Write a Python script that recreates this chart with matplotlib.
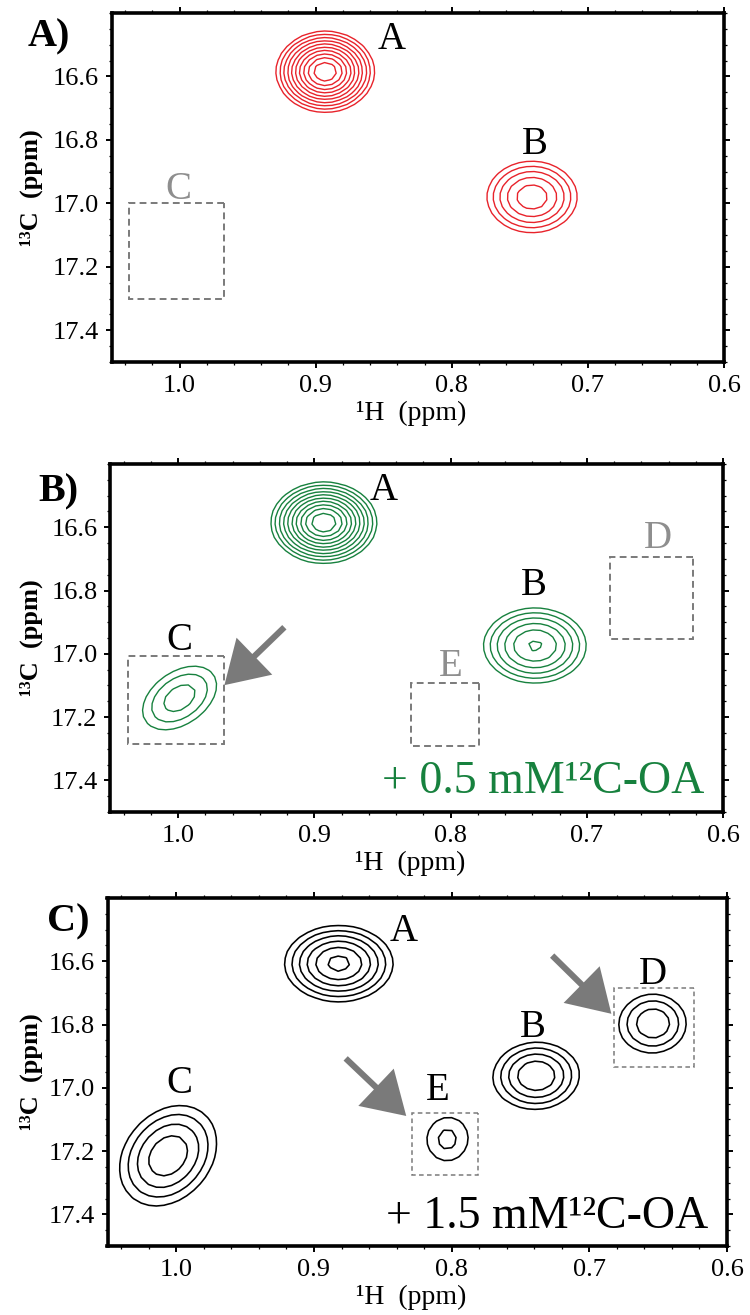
import numpy as np
import matplotlib
matplotlib.use("Agg")
import matplotlib.pyplot as plt
from matplotlib.patches import Rectangle
from matplotlib.ticker import MultipleLocator, FormatStrFormatter

plt.rcParams['font.family'] = ['Liberation Serif', 'DejaVu Serif']

# ---------------------------------------------------------------------------
# Axis ranges and ticks (ppm)
h_lim = (1.05, 0.60)
c_lim = (17.50, 16.40)
h_ticks = [1.0, 0.9, 0.8, 0.7, 0.6]
c_ticks = [16.6, 16.8, 17.0, 17.2, 17.4]

# ---------------------------------------------------------------------------
# Cross-peak tables: 1H shift, 13C shift, intensity, line widths, tilt
# A) apo protein
a_h = [0.893, 0.741]
a_c = [16.585, 16.980]
a_amp = [9.2, 2.85]
a_wh = [0.0178, 0.0281]
a_wc = [0.0630, 0.0955]
a_rho = [0.0, 0.0]

# B) + 0.5 mM 12C-OA
b_h = [0.893, 0.738, 0.999]
b_c = [16.585, 16.974, 17.140]
b_amp = [9.2, 3.15, 1.75]
b_wh = [0.0191, 0.0301, 0.0336]
b_wc = [0.0630, 0.0948, 0.1244]
b_rho = [0.0, 0.0, 0.4]

# C) + 1.5 mM 12C-OA
c_h = [0.882, 0.7385, 1.006, 0.6535, 0.8035]
c_c = [16.607, 16.962, 17.215, 16.796, 17.165]
c_amp = [4.95, 3.28, 3.10, 2.30, 1.42]
c_wh = [0.0249, 0.0232, 0.0284, 0.0231, 0.0218]
c_wc = [0.0760, 0.0800, 0.1280, 0.0885, 0.1000]
c_rho = [0.0, 0.0, 0.25, 0.0, 0.0]

# Line-shape exponent (Pearson VII) and contour ladders (base, factor)
SHAPE_NU = 2.0
a_levels = (1.0, 1.25)
b_levels = (1.0, 1.25)
c_levels = (1.0, 1.35)

# Peak labels: (text, 1H, 13C baseline, grey?)
a_labels = [('A', 0.844, 16.512, False), ('B', 0.739, 16.843, False),
            ('C', 1.001, 16.985, True)]
b_labels = [('A', 0.849, 16.515, False), ('B', 0.739, 16.815, False),
            ('C', 0.999, 16.987, False), ('D', 0.648, 16.664, True),
            ('E', 0.800, 17.071, True)]
c_labels = [('A', 0.835, 16.535, False), ('B', 0.741, 16.839, False),
            ('C', 0.998, 17.015, False), ('D', 0.654, 16.671, False),
            ('E', 0.810, 17.040, False)]

# Dashed regions: (1H min, 1H max, 13C min, 13C max)
a_boxes = [(0.967, 1.037, 17.000, 17.300)]
b_boxes = [(0.966, 1.037, 17.006, 17.286), (0.779, 0.829, 17.093, 17.292),
           (0.622, 0.683, 16.695, 16.952)]
c_boxes = [(0.624, 0.682, 16.684, 16.933), (0.781, 0.829, 17.080, 17.274)]

# Arrows: (tail 1H, tail 13C, tip 1H, tip 13C)
b_arrows = [(0.922, 16.916, 0.966, 17.099)]
c_arrows = [(0.727, 16.582, 0.684, 16.766), (0.877, 16.907, 0.833, 17.089)]

RED = '#e8232b'
GREEN = '#17813e'
GREY = '#7a7a7a'
GREY_TXT = '#8e8e8e'

# Spectral grid (coarse digital resolution gives faceted contours)
gh = np.arange(0.58, 1.07, 0.0055)
gc = np.arange(16.38, 17.52, 0.021)
GH, GC = np.meshgrid(gh, gc)


def spectrum(hs, cs, amps, whs, wcs, rhos):
    z = np.zeros_like(GH)
    for h0, c0, a, wh, wc, r in zip(hs, cs, amps, whs, wcs, rhos):
        dx = (GH - h0) / wh
        dy = (GC - c0) / wc
        q = (dx ** 2 - 2 * r * dx * dy + dy ** 2) / (1 - r ** 2)
        z += a * (1 + q / SHAPE_NU) ** (-SHAPE_NU)
    return z


def style_axes(ax):
    ax.set_xlim(*h_lim)
    ax.set_ylim(*c_lim)
    ax.set_xticks(h_ticks)
    ax.set_yticks(c_ticks)
    ax.xaxis.set_major_formatter(FormatStrFormatter('%.1f'))
    ax.yaxis.set_major_formatter(FormatStrFormatter('%.1f'))
    ax.xaxis.set_minor_locator(MultipleLocator(0.02))
    ax.yaxis.set_minor_locator(MultipleLocator(0.05))
    ax.tick_params(which='both', direction='out', top=True, right=True,
                   labelsize=19, colors='black')
    ax.tick_params(which='major', length=4, width=1.4)
    ax.tick_params(which='minor', length=2.5, width=0.9)
    ax.tick_params(axis='x', pad=5)
    ax.tick_params(axis='y', pad=5)
    for s in ax.spines.values():
        s.set_linewidth(2.6)
    ax.text(0.49, -0.148, '\u00b9H  (ppm)', transform=ax.transAxes,
            ha='center', va='center', fontsize=20)


def draw_panel(ax, hs, cs, amps, whs, wcs, rhos, lev, color, labels, boxes,
               arrows, lw=1.0, box_lw=1.4, dash=(3.5, 2.2)):
    z = spectrum(hs, cs, amps, whs, wcs, rhos)
    levels = lev[0] * lev[1] ** np.arange(14)
    ax.contour(GH, GC, z, levels=levels, colors=color, linewidths=lw)
    for (x0, x1, y0, y1) in boxes:
        ax.add_patch(Rectangle((x0, y0), x1 - x0, y1 - y0, fill=False,
                               edgecolor=GREY, lw=box_lw,
                               linestyle=(0, dash)))
    for txt, x, y, grey in labels:
        ax.text(x, y, txt, ha='center', va='baseline', fontsize=28,
                color=GREY_TXT if grey else 'black')
    for (tx, ty, hx, hy) in arrows:
        ax.annotate('', xy=(hx, hy), xytext=(tx, ty),
                    arrowprops=dict(arrowstyle='simple,head_length=1.5,'
                                    'head_width=1.85,tail_width=0.22',
                                    color=GREY, lw=0, shrinkA=0, shrinkB=0,
                                    mutation_scale=20))
    style_axes(ax)


fig = plt.figure(figsize=(7.5, 13.15), dpi=100)
W, H = 750.0, 1315.0


def rect(l, r, t, b):
    return [l / W, 1 - b / H, (r - l) / W, (b - t) / H]


ax1 = fig.add_axes(rect(111.5, 724, 13, 362))
ax2 = fig.add_axes(rect(110, 723, 464, 812))
ax3 = fig.add_axes(rect(107.5, 727, 898, 1246))

draw_panel(ax1, a_h, a_c, a_amp, a_wh, a_wc, a_rho, a_levels, RED,
           a_labels, a_boxes, [])
draw_panel(ax2, b_h, b_c, b_amp, b_wh, b_wc, b_rho, b_levels, GREEN,
           b_labels, b_boxes, b_arrows)
draw_panel(ax3, c_h, c_c, c_amp, c_wh, c_wc, c_rho, c_levels, 'black',
           c_labels, c_boxes, c_arrows, lw=1.15, box_lw=1.1, dash=(3.0, 2.2))

ax2.text(0.97, 0.055, '+ 0.5 mM\u00b9\u00b2C-OA', transform=ax2.transAxes,
         ha='right', va='baseline', fontsize=33, color=GREEN)
ax3.text(0.97, 0.052, '+ 1.5 mM\u00b9\u00b2C-OA', transform=ax3.transAxes,
         ha='right', va='baseline', fontsize=33, color='black')

# Panel tags and 13C axis titles
for tag, x, y in [('A)', 49, 36.5), ('B)', 58.5, 491.5), ('C)', 68, 921.5)]:
    fig.text(x / W, 1 - y / H, tag, ha='center', va='center',
             fontsize=29, fontweight='bold')
for yc in [187.5, 638, 1072]:
    fig.text(31 / W, 1 - yc / H, '\u00b9\u00b3C  (ppm)', rotation=90,
             ha='center', va='center', fontsize=19, fontweight='bold')

fig.savefig('out.png', dpi=100)
